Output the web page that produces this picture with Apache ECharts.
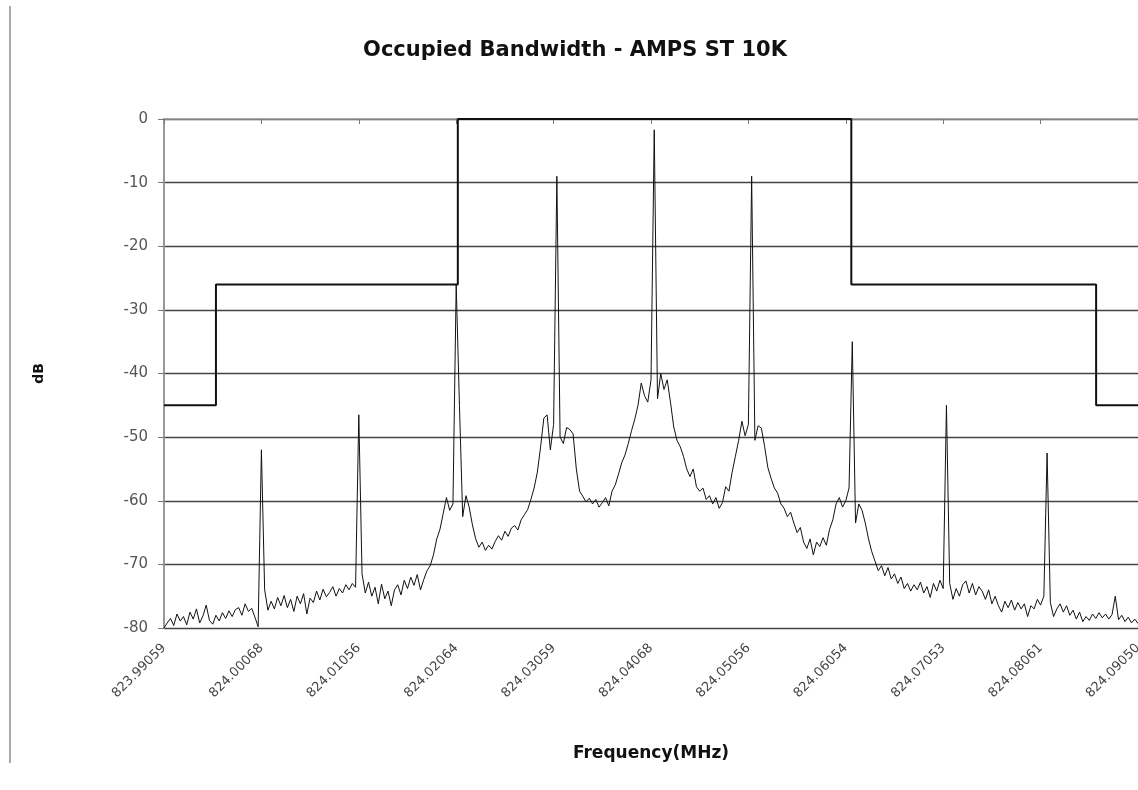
<!DOCTYPE html>
<html>
<head>
<meta charset="utf-8">
<script src="https://cdn.jsdelivr.net/npm/echarts@6/dist/echarts.min.js"></script>
<style>
html,body{margin:0;padding:0;background:#fff;overflow:hidden;}
#chart{width:1138px;height:790px;}
</style>
</head>
<body>
<div id="chart"></div>
<script>
// Tick labels of the frequency axis (MHz), one every 30 samples
const tickLabels = ["823.99059","824.00068","824.01056","824.02064","824.03059","824.04068","824.05056","824.06054","824.07053","824.08061","824.09050"];
const samplesPerTick = 30;

// Measured spectrum (dB), one value per sample, 301 samples
const spectrum = [
-80,-79.2,-78.5,-79.6,-77.8,-78.9,-78.2,-79.5,-77.5,-78.6,
-77.0,-79.2,-78.1,-76.4,-78.8,-79.4,-78.0,-78.9,-77.6,-78.5,
-77.3,-78.2,-77.1,-76.8,-78.0,-76.2,-77.4,-76.9,-78.3,-79.8,
-52,-74.0,-77.2,-75.8,-77.0,-75.2,-76.5,-74.9,-76.8,-75.5,
-77.4,-75.0,-76.2,-74.6,-77.8,-75.3,-76.0,-74.2,-75.6,-73.9,
-75.1,-74.4,-73.5,-75.0,-73.8,-74.5,-73.2,-74.0,-73.0,-73.6,
-46.5,-71.5,-74.5,-72.8,-75.0,-73.6,-76.2,-73.1,-75.4,-74.2,
-76.5,-74.0,-73.2,-74.8,-72.5,-73.8,-72.0,-73.3,-71.6,-74.0,
-72.4,-71.0,-70.2,-68.5,-66.0,-64.5,-62.0,-59.5,-61.5,-60.5,
-26,-45,-62.5,-59.2,-61.0,-63.8,-66.0,-67.3,-66.5,-67.8,
-67.0,-67.6,-66.4,-65.5,-66.2,-64.8,-65.6,-64.3,-63.9,-64.6,
-63.0,-62.2,-61.4,-59.8,-58.0,-55.5,-51.5,-47.0,-46.5,-52.0,
-48.0,-9,-50.0,-51.0,-48.5,-48.8,-49.5,-55.0,-58.5,-59.3,
-60.2,-59.6,-60.5,-59.8,-61.0,-60.3,-59.5,-60.8,-58.5,-57.5,
-55.8,-54.0,-52.8,-51.0,-49.0,-47.2,-45.0,-41.5,-43.5,-44.5,
-41.0,-1.7,-44.0,-40.0,-42.5,-41.0,-44.5,-48.4,-50.5,-51.5,
-53.0,-55.0,-56.2,-55.0,-57.8,-58.5,-58.0,-59.8,-59.2,-60.5,
-59.5,-61.2,-60.3,-57.8,-58.5,-55.5,-53.0,-50.5,-47.5,-49.8,
-48.0,-9,-50.5,-48.2,-48.6,-51.5,-54.8,-56.5,-58.0,-58.8,
-60.5,-61.2,-62.5,-61.8,-63.5,-65.0,-64.2,-66.5,-67.5,-66.0,
-68.5,-66.5,-67.2,-65.8,-67.0,-64.5,-63.0,-60.5,-59.5,-61.0,
-60.0,-58.0,-35,-63.5,-60.5,-61.5,-63.5,-66.0,-68.0,-69.5,
-71.0,-70.2,-71.8,-70.5,-72.3,-71.5,-73.0,-72.0,-73.8,-73.0,
-74.2,-73.2,-74.0,-72.8,-74.5,-73.5,-75.2,-73.0,-74.2,-72.5,
-73.8,-45,-73.0,-75.5,-73.8,-75.0,-73.2,-72.6,-74.5,-73.0,
-74.8,-73.5,-74.2,-75.5,-74.0,-76.2,-75.0,-76.5,-77.5,-75.8,
-76.8,-75.6,-77.2,-76.0,-77.0,-76.2,-78.2,-76.5,-77.0,-75.5,
-76.4,-75.0,-52.5,-76.0,-78.2,-77.0,-76.2,-77.5,-76.5,-78.0,
-77.2,-78.6,-77.5,-79.0,-78.2,-78.8,-77.8,-78.5,-77.6,-78.4,
-77.8,-78.6,-77.9,-75.0,-78.7,-78.0,-79.0,-78.3,-79.2,-78.6,
-79.3
];

// Emission mask (sample position, dB)
const maskX = [0, 16, 16, 90.5, 90.5, 211.7, 211.7, 287.1, 287.1, 300];
const maskY = [-45, -45, -26, -26, 0, 0, -26, -26, -45, -45];

const lastIndex = (tickLabels.length - 1) * samplesPerTick;
const spectrumData = spectrum.map((v, i) => [i, v]);
const maskData = maskX.map((x, i) => [x, maskY[i]]);

const chart = echarts.init(document.getElementById('chart'), null, {renderer: 'canvas'});
chart.setOption({
  animation: false,
  backgroundColor: '#fff',
  title: {
    text: 'Occupied Bandwidth - AMPS ST 10K',
    left: 570, top: 35, textAlign: 'center',
    textStyle: {fontFamily: 'DejaVu Sans, sans-serif', fontSize: 21, fontWeight: 'bold', color: '#111'}
  },
  graphic: [{
    type: 'rect', left: 9, top: 6, shape: {width: 2, height: 757},
    style: {fill: '#aaa'}, silent: true
  }],
  grid: {left: 164, right: 0, top: 119, bottom: 162, containLabel: false, outerBoundsMode: 'none'},
  xAxis: {
    type: 'value', min: 0, max: lastIndex, interval: samplesPerTick,
    name: 'Frequency(MHz)', nameLocation: 'middle', nameGap: 117,
    nameTextStyle: {fontFamily: 'DejaVu Sans, sans-serif', fontSize: 17, fontWeight: 'bold', color: '#111'},
    axisLine: {show: true, lineStyle: {color: '#999', width: 1.5}},
    axisTick: {show: true, length: 5, lineStyle: {color: '#777'}},
    splitLine: {show: false},
    axisLabel: {
      rotate: 45, margin: 18, color: '#444', fontSize: 13,
      fontFamily: 'DejaVu Sans, sans-serif',
      formatter: v => tickLabels[Math.round(v / samplesPerTick)] || ''
    }
  },
  yAxis: {
    type: 'value', min: -80, max: 0, interval: 10,
    name: 'dB', nameLocation: 'middle', nameGap: 118, nameRotate: 90,
    nameTextStyle: {fontFamily: 'DejaVu Sans, sans-serif', fontSize: 14, fontWeight: 'bold', color: '#111'},
    axisLine: {show: true, lineStyle: {color: '#999', width: 2}},
    axisTick: {show: true, length: 6, lineStyle: {color: '#777'}},
    splitLine: {show: true, lineStyle: {color: '#444', width: 1.3}},
    axisLabel: {margin: 16, color: '#555', fontSize: 15, fontFamily: 'DejaVu Sans, sans-serif'}
  },
  series: [{
    type: 'line', name: 'Spectrum', data: spectrumData, showSymbol: false, symbol: 'none',
    lineStyle: {color: '#111', width: 1}, z: 3
  }, {
    type: 'line', name: 'Mask', data: maskData, showSymbol: false, symbol: 'none',
    lineStyle: {color: '#111', width: 2}, z: 4
  }]
});
</script>
</body>
</html>
